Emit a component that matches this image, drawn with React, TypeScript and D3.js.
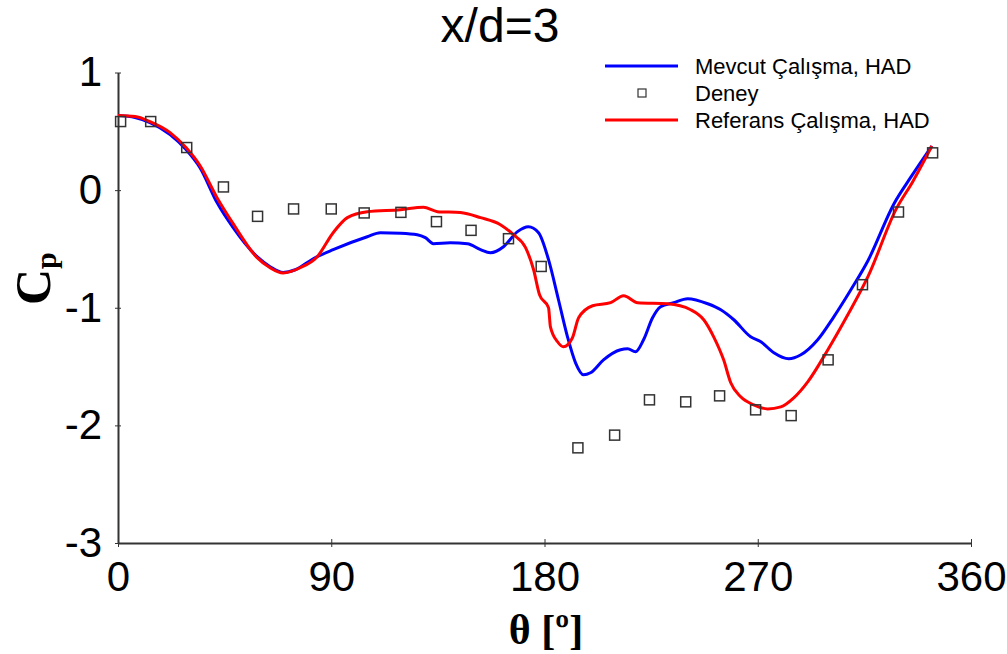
import React, { useEffect, useRef } from "react";
import * as d3 from "d3";

// Mevcut Çalışma, HAD (blue)
const blueTheta = [0, 7.2, 13.5, 22.0, 28.7, 34.6, 41.8, 48.6, 58.7, 64.2, 69.7, 74.8, 82.4, 90.8, 105.2, 110.7, 119.2, 126.3, 129.7, 133.1, 140.3, 147.5, 153.0, 157.2, 162.7, 168.6, 173.2, 177.5, 181.7, 185.9, 189.7, 193.1, 196.5, 199.4, 204.9, 212.1, 215.1, 218.4, 221.8, 225.6, 229.0, 234.5, 240.4, 248.9, 254.4, 259.9, 267.0, 271.3, 276.8, 283.1, 288.2, 295.3, 302.1, 309.3, 316.5, 327.5, 334.6, 343.5];
const blueCp = [0.634, 0.617, 0.574, 0.472, 0.345, 0.191, -0.106, -0.319, -0.566, -0.651, -0.700, -0.677, -0.583, -0.506, -0.396, -0.362, -0.366, -0.379, -0.404, -0.455, -0.447, -0.455, -0.506, -0.532, -0.481, -0.353, -0.311, -0.362, -0.591, -0.932, -1.247, -1.468, -1.570, -1.553, -1.443, -1.357, -1.349, -1.374, -1.272, -1.085, -0.991, -0.957, -0.923, -0.966, -1.017, -1.102, -1.247, -1.289, -1.383, -1.434, -1.400, -1.272, -1.077, -0.847, -0.600, -0.115, 0.110, 0.375];

// Referans Çalışma, HAD (red)
const redTheta = [0, 7.2, 13.5, 22.0, 28.7, 34.6, 41.8, 48.6, 58.7, 64.2, 69.7, 76.9, 84.1, 90.8, 96.8, 105.2, 119.2, 128.9, 134.8, 144.5, 153.0, 161.4, 166.9, 172.0, 175.4, 177.9, 181.7, 182.5, 185.5, 188.0, 191.8, 194.4, 200.3, 207.9, 213.4, 219.3, 232.0, 241.7, 247.2, 251.4, 255.6, 258.6, 262.8, 268.3, 274.2, 279.7, 285.2, 291.1, 299.6, 308.0, 316.5, 328.3, 335.4, 343.5];
const redCp = [0.634, 0.626, 0.583, 0.489, 0.362, 0.209, -0.064, -0.285, -0.574, -0.660, -0.705, -0.660, -0.566, -0.362, -0.234, -0.183, -0.166, -0.146, -0.183, -0.191, -0.234, -0.294, -0.379, -0.489, -0.677, -0.889, -1.000, -1.162, -1.289, -1.332, -1.255, -1.085, -0.983, -0.957, -0.898, -0.957, -0.966, -1.017, -1.102, -1.247, -1.443, -1.638, -1.757, -1.826, -1.860, -1.843, -1.766, -1.630, -1.357, -1.060, -0.736, -0.166, 0.072, 0.375];

// Deney (experiment)
const expTheta = [1.1, 13.8, 29.0, 44.5, 58.9, 74.1, 90.0, 103.9, 119.4, 134.4, 149.0, 164.8, 178.6, 194.1, 209.6, 224.3, 239.6, 253.9, 269.1, 284.1, 299.7, 314.2, 329.4, 343.8];
const expCp = [0.583, 0.583, 0.362, 0.027, -0.223, -0.160, -0.160, -0.194, -0.189, -0.268, -0.342, -0.413, -0.649, -2.191, -2.083, -1.783, -1.800, -1.749, -1.868, -1.917, -1.443, -0.804, -0.186, 0.317];

const xTicks = [0, 90, 180, 270, 360];
const yTicks = [1, 0, -1, -2, -3];
const legendLabels = ["Mevcut Çalışma, HAD", "Deney", "Referans Çalışma, HAD"];

const W = 1007, H = 654;

export default function App() {
  const ref = useRef<SVGSVGElement>(null);

  useEffect(() => {
    const svg = d3.select(ref.current);
    svg.selectAll("*").remove();

    const x = d3.scaleLinear().domain([0, 360]).range([118, 971]);
    const y = d3.scaleLinear().domain([-3, 1]).range([543, 72.5]);

    const sans = "'Liberation Sans', Arial, sans-serif";
    const serif = "'Liberation Serif', 'Times New Roman', serif";
    const fmt = (d: any) => String(d); // plain hyphen minus

    // title
    svg.append("text")
      .attr("x", 500).attr("y", 42)
      .attr("text-anchor", "middle")
      .attr("font-family", sans).attr("font-size", 48)
      .text("x/d=3");

    // axes
    const axisColor = "#333";
    const gx = svg.append("g")
      .attr("transform", `translate(0, ${y(-3)})`)
      .call(d3.axisBottom(x).tickValues(xTicks).tickSize(0).tickFormat(fmt));
    gx.select(".domain").attr("stroke", axisColor).attr("stroke-width", 2);
    gx.selectAll(".tick").append("line").attr("y1", -4).attr("y2", 4).attr("stroke", axisColor);
    gx.selectAll(".tick text")
      .attr("font-family", sans).attr("font-size", 42).attr("fill", "#000")
      .attr("dy", "0.71em").attr("y", 18);

    const gy = svg.append("g")
      .attr("transform", `translate(${x(0)}, 0)`)
      .call(d3.axisLeft(y).tickValues(yTicks).tickSize(0).tickFormat(fmt));
    gy.select(".domain").attr("stroke", axisColor).attr("stroke-width", 2);
    gy.selectAll(".tick").append("line").attr("x1", -3).attr("x2", 3).attr("stroke", axisColor);
    gy.selectAll(".tick text")
      .attr("font-family", sans).attr("font-size", 42).attr("fill", "#000")
      .attr("x", -16);

    // axis titles
    const cp = svg.append("text")
      .attr("transform", "translate(50, 305) rotate(-90)")
      .attr("font-family", serif).attr("font-weight", "bold").attr("font-size", 50);
    cp.append("tspan").text("C");
    cp.append("tspan").attr("font-size", 30).attr("dy", 6).text("p");

    svg.append("text")
      .attr("x", 546).attr("y", 644)
      .attr("text-anchor", "middle")
      .attr("font-family", serif).attr("font-weight", "bold").attr("font-size", 42)
      .text("θ [º]");

    // lines
    const line = d3.line<[number, number]>()
      .x((d) => x(d[0]))
      .y((d) => y(d[1]))
      .curve(d3.curveMonotoneX);

    const blueData = blueTheta.map((t, i) => [t, blueCp[i]] as [number, number]);
    const redData = redTheta.map((t, i) => [t, redCp[i]] as [number, number]);

    svg.append("path").datum(blueData)
      .attr("fill", "none").attr("stroke", "#0000ff").attr("stroke-width", 3)
      .attr("d", line);
    svg.append("path").datum(redData)
      .attr("fill", "none").attr("stroke", "#ff0000").attr("stroke-width", 3)
      .attr("d", line);

    // experiment squares
    const s = 10;
    svg.append("g").selectAll("rect")
      .data(expTheta.map((t, i) => [t, expCp[i]]))
      .enter().append("rect")
      .attr("x", (d) => x(d[0]) - s / 2)
      .attr("y", (d) => y(d[1]) - s / 2)
      .attr("width", s).attr("height", s)
      .attr("fill", "none").attr("stroke", "#333").attr("stroke-width", 1.5);

    // legend
    const lg = svg.append("g").attr("font-family", sans).attr("font-size", 22);
    const ly = [66, 93, 120];
    lg.append("line").attr("x1", 605).attr("x2", 678).attr("y1", ly[0]).attr("y2", ly[0])
      .attr("stroke", "#0000ff").attr("stroke-width", 3);
    lg.append("rect").attr("x", 638).attr("y", ly[1] - 4).attr("width", 8).attr("height", 8)
      .attr("fill", "none").attr("stroke", "#333").attr("stroke-width", 1.2);
    lg.append("line").attr("x1", 605).attr("x2", 678).attr("y1", ly[2]).attr("y2", ly[2])
      .attr("stroke", "#ff0000").attr("stroke-width", 3);
    legendLabels.forEach((t, i) => {
      lg.append("text").attr("x", 695).attr("y", ly[i]).attr("dy", "0.35em").text(t);
    });
  }, []);

  return (
    <svg ref={ref} width={W} height={H}
      style={{ position: "absolute", left: 0, top: 0, background: "#fff" }} />
  );
}
